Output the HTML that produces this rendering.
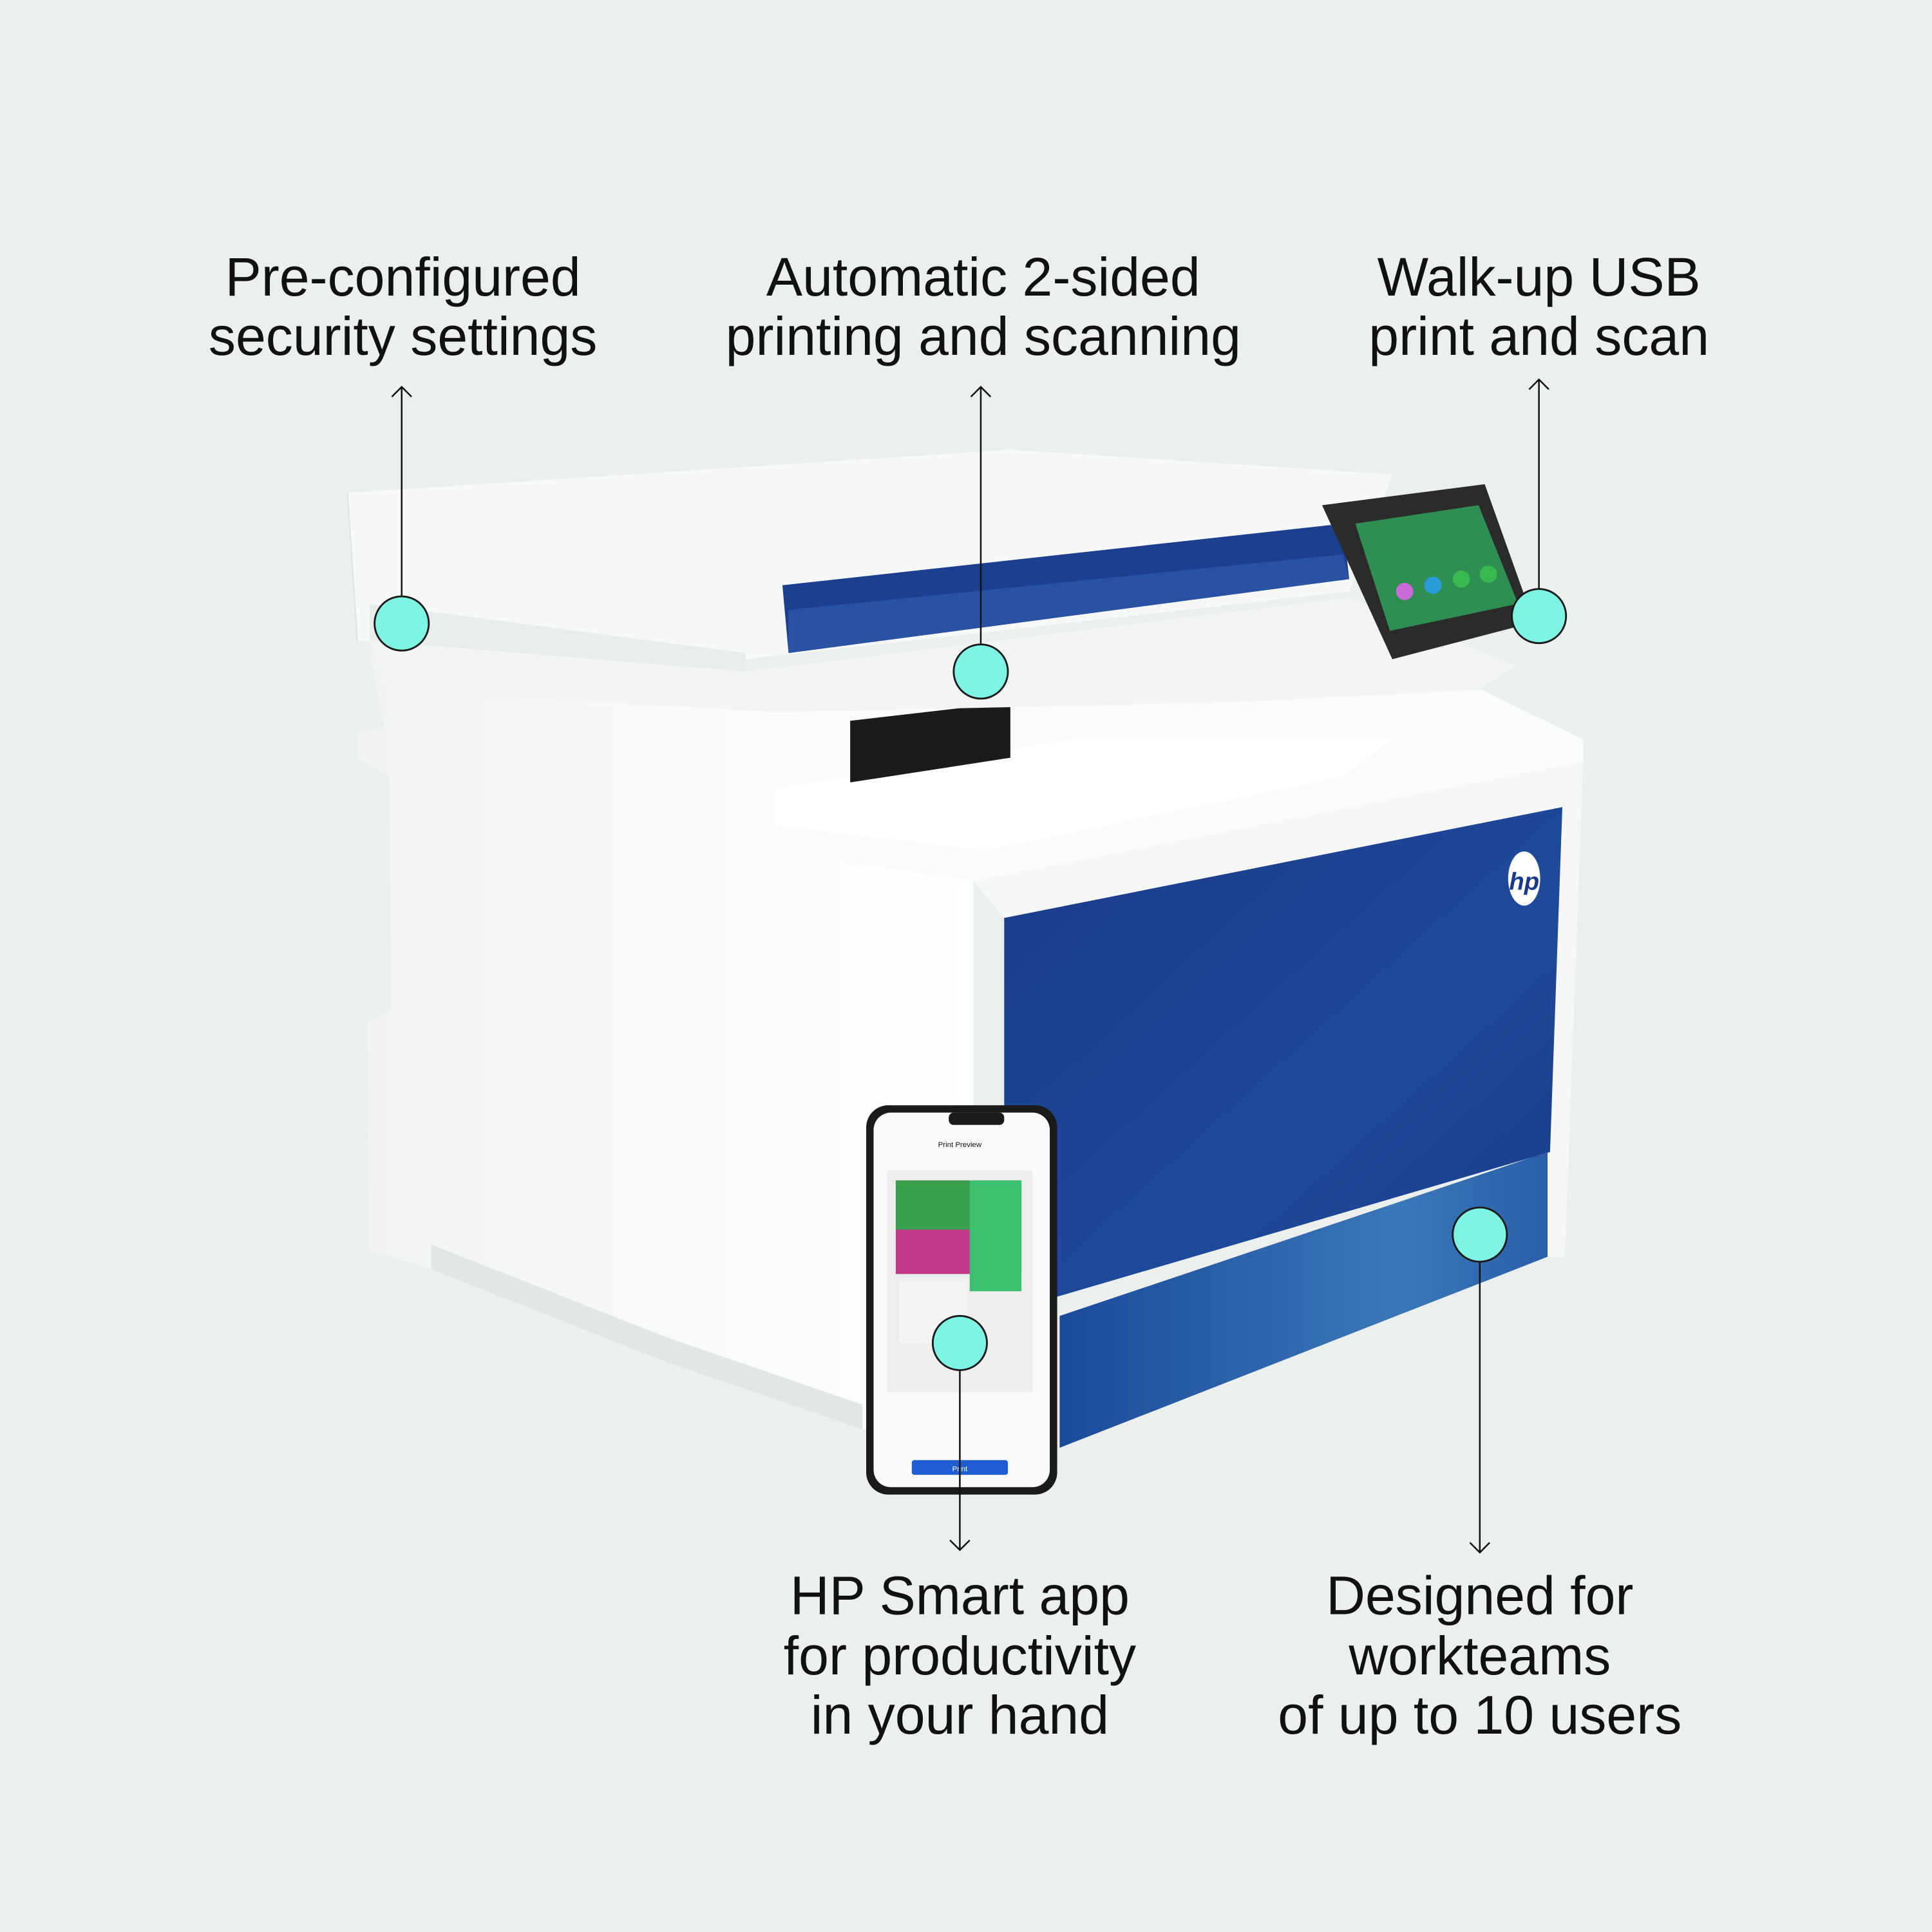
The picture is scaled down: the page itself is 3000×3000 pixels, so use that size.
<!DOCTYPE html>
<html><head><meta charset="utf-8"><style>
html,body{margin:0;padding:0;background:#ebefed;}
svg{display:block;}
text{font-family:"Liberation Sans",sans-serif;fill:#111;}
</style></head><body>
<svg width="3000" height="3000" viewBox="0 0 1568 1568" xmlns="http://www.w3.org/2000/svg">
<defs>
<linearGradient id="bl" x1="0" y1="0" x2="1" y2="1"><stop offset="0" stop-color="#1a3a8a"/><stop offset="0.6" stop-color="#1f4a9a"/><stop offset="1" stop-color="#173a85"/></linearGradient>
<linearGradient id="bl2" x1="0" y1="0" x2="1" y2="0"><stop offset="0" stop-color="#1c4a9a"/><stop offset="0.7" stop-color="#3a78b8"/><stop offset="1" stop-color="#2a5ea8"/></linearGradient>
<linearGradient id="wh" x1="0" y1="0" x2="1" y2="0"><stop offset="0" stop-color="#f2f4f4"/><stop offset="1" stop-color="#ffffff"/></linearGradient>
</defs>
<rect width="1568" height="1568" fill="#ebefed"/>
<!-- body left side -->
<polygon points="300,530 630,575 790,715 790,1150 700,1160 540,1105 450,1050 350,1030 300,1015 298,830 318,820 316,630 290,615 290,595 312,590" fill="url(#wh)"/>
<polygon points="350,1030 540,1105 700,1160 700,1140 540,1085 350,1010" fill="#e2e6e6"/>
<!-- right frame -->
<polygon points="790,715 1285,615 1270,1020 1256,1020 1256,935 815,1065 815,745" fill="#f6f8f8"/>
<polygon points="630,575 1120,520 1285,600 1285,618 790,715 630,690" fill="#fafbfb"/>
<polygon points="630,640 870,600 1130,600 1090,630 800,690 630,670" fill="#ffffff"/>
<!-- blue door -->
<polygon points="815,745 1268,655 1258,935 815,1065" fill="url(#bl)"/>
<polygon points="860,1068 1256,935 1256,1020 860,1175" fill="url(#bl2)"/>
<ellipse cx="1237" cy="713" rx="13" ry="22" fill="#fff"/>
<text x="1237" y="722" font-size="20" text-anchor="middle" style="fill:#1a3a8a;font-style:italic;font-weight:bold">hp</text>
<!-- output area -->
<polygon points="690,585 820,570 820,615 690,635" fill="#1b1b1b"/>
<!-- scanner -->
<polygon points="282,400 820,365 1130,385 1095,480 605,535 290,520" fill="#f7f8f8"/>
<polygon points="300,490 605,530 605,545 300,520" fill="#e8ecec"/>
<polygon points="635,475 1090,425 1095,470 640,530" fill="#1d3f8f"/>
<polygon points="640,495 1090,450 1095,470 640,530" fill="#2a52a2"/>
<polygon points="300,520 605,545 1095,485 1230,540 1200,560 1000,570 630,578 312,560" fill="#f3f5f5"/>
<line x1="282" y1="400" x2="290" y2="520" stroke="#dde2e2"/>
<!-- control panel -->
<polygon points="1073,410 1205,393 1245,505 1130,535" fill="#2b2b2b"/>
<polygon points="1100,425 1200,410 1232,490 1128,512" fill="#2f8f52"/>
<circle cx="1140" cy="480" r="7" fill="#c86ad8"/><circle cx="1163" cy="475" r="7" fill="#2a9ad8"/><circle cx="1186" cy="470" r="7" fill="#3ab850"/><circle cx="1208" cy="466" r="7" fill="#3ab850"/>
<!-- phone -->
<rect x="703" y="897" width="155" height="316" rx="18" fill="#1a1a1a"/>
<rect x="709" y="903" width="143" height="304" rx="14" fill="#fafafa"/>
<rect x="770" y="903" width="45" height="10" rx="4" fill="#1a1a1a"/>
<text x="779" y="931" font-size="6" text-anchor="middle">Print Preview</text>
<rect x="720" y="950" width="118" height="180" fill="#eeeeee"/>
<rect x="727" y="958" width="102" height="76" fill="#c23a8a"/>
<rect x="727" y="958" width="60" height="40" fill="#3aa050"/>
<rect x="787" y="958" width="42" height="90" fill="#3cc070"/>
<rect x="730" y="1040" width="55" height="50" fill="#f4f4f4"/>
<rect x="740" y="1185" width="78" height="12" rx="2" fill="#1e5ed0"/>
<text x="779" y="1194" font-size="6" text-anchor="middle" style="fill:#fff">Print</text>
<!-- connectors -->
<g stroke="#111" stroke-width="1.3" fill="none">
<line x1="326" y1="314" x2="326" y2="484"/><polyline points="318,322 326,314 334,322"/>
<line x1="796" y1="314" x2="796" y2="523"/><polyline points="788,322 796,314 804,322"/>
<line x1="1249" y1="308" x2="1249" y2="478"/><polyline points="1241,316 1249,308 1257,316"/>
<line x1="1201" y1="1024" x2="1201" y2="1260"/><polyline points="1193,1252 1201,1260 1209,1252"/>
<line x1="779" y1="1112" x2="779" y2="1258"/><polyline points="771,1250 779,1258 787,1250"/>
</g>
<g fill="#7ef4e4" stroke="#1a1a1a" stroke-width="1.5">
<circle cx="326" cy="506" r="22"/><circle cx="796" cy="545" r="22"/><circle cx="1249" cy="500" r="22"/><circle cx="1201" cy="1002" r="22"/><circle cx="779" cy="1090" r="22"/>
</g>
<!-- labels -->
<g font-size="44" text-anchor="middle">
<text x="327" y="240">Pre-configured</text><text x="327" y="288">security settings</text>
<text x="798" y="240">Automatic 2-sided</text><text x="798" y="288">printing and scanning</text>
<text x="1249" y="240">Walk-up USB</text><text x="1249" y="288">print and scan</text>
<text x="779" y="1310">HP Smart app</text><text x="779" y="1359">for productivity</text><text x="779" y="1407">in your hand</text>
<text x="1201" y="1310">Designed for</text><text x="1201" y="1359">workteams</text><text x="1201" y="1407">of up to 10 users</text>
</g>
</svg>
</body></html>
